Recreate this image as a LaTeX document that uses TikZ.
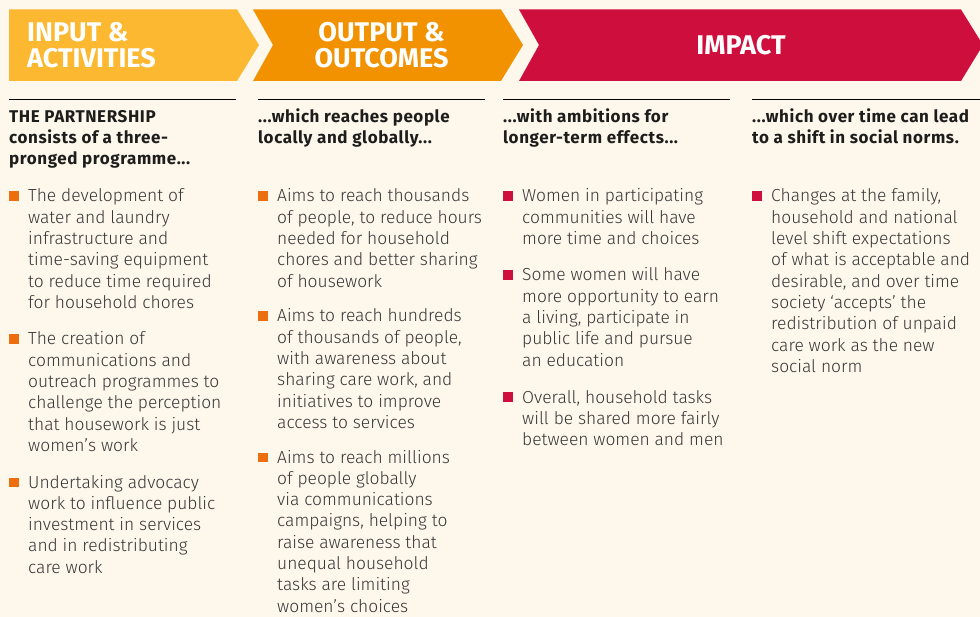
\documentclass[tikz,border=0pt]{standalone}
\usepackage{fontspec}
\setmainfont{Fira Sans}
\newfontfamily\bodyfont{Fira Sans Light}
\newfontfamily\headfont[LetterSpace=3.5]{Fira Sans}
\definecolor{bgcream}{HTML}{FDF7EC}
\definecolor{banyellow}{HTML}{FBB830}
\definecolor{banorange}{HTML}{F39200}
\definecolor{bancrimson}{HTML}{CE0F3E}
\definecolor{bulorange}{HTML}{EC6E0F}
\definecolor{headtext}{HTML}{1D1D1B}
\definecolor{bodytext}{HTML}{363636}
\tikzset{
  x=1pt, y=-1pt,
  bantext/.style={text=white, font=\fontsize{27}{26}\selectfont\bfseries, inner sep=0pt, align=left},
  headtxt/.style={anchor=base west, inner sep=0pt, text=headtext, font=\fontsize{17}{21}\selectfont\headfont\bfseries},
  bodytxt/.style={anchor=base west, inner sep=0pt, text=bodytext, font=\fontsize{17.4}{21.3}\selectfont\bodyfont},
  rule/.style={line width=1pt, draw=black},
  sqbullet/.style={anchor=south west, inner sep=0pt, minimum size=9.5pt, fill=#1}
}
\newcommand\bitem[6]{%
  \node[sqbullet=#4] (#1sq) at (#2,#3-0.8) {};
  \node[bodytxt] (#1) at (#2+19,#3) {\parbox[t]{#5pt}{\raggedright #6}};
}
\begin{document}
\begin{tikzpicture}
\useasboundingbox (0,0) rectangle (980,617);
\clip (0,0) rectangle (980,617);
\fill[bgcream] (0,0) rectangle (980,617);
% banners
\fill[banyellow] (9,9.5) -- (237,9.5) -- (259,45) -- (237,81) -- (9,81) -- cycle;
\fill[banorange] (253,9.5) -- (501,9.5) -- (523,45) -- (501,81) -- (253,81) -- (273,45) -- cycle;
\fill[bancrimson] (519,9.5) -- (961,9.5) -- (983,45) -- (961,81) -- (519,81) -- (539,45) -- cycle;
\node[bantext, anchor=base west] (b1a) at (27,42) {INPUT \&};
\node[bantext, anchor=base west] (b1b) at (27,68) {ACTIVITIES};
\node[bantext, anchor=base] (b2a) at (381.5,42) {OUTPUT \&};
\node[bantext, anchor=base] (b2b) at (381.5,68) {OUTCOMES};
\node[bantext, anchor=base] (b3) at (741,55) {IMPACT};
% rules
\draw[rule] (9,99.5) -- (236,99.5);
\draw[rule] (258,99.5) -- (485,99.5);
\draw[rule] (503,99.5) -- (730,99.5);
\draw[rule] (752,99.5) -- (980,99.5);
% headings
\node[headtxt] (h1) at (9,123) {\parbox[t]{230pt}{\raggedright THE PARTNERSHIP\\consists of a three-\\pronged programme...}};
\node[headtxt] (h2) at (258,123) {\parbox[t]{230pt}{\raggedright ...which reaches people\\locally and globally...}};
\node[headtxt] (h3) at (503,123) {\parbox[t]{230pt}{\raggedright ...with ambitions for\\longer-term effects...}};
\node[headtxt] (h4) at (752,123) {\parbox[t]{230pt}{\raggedright ...which over time can lead\\to a shift in social norms.}};
% column 1
\bitem{c1a}{9}{202}{bulorange}{215}{The development of\\water and laundry\\infrastructure and\\time-saving equipment\\to reduce time required\\for household chores}
\bitem{c1b}{9}{345}{bulorange}{215}{The creation of\\communications and\\outreach programmes to\\challenge the perception\\that housework is just\\women’s work}
\bitem{c1c}{9}{488}{bulorange}{215}{Undertaking advocacy\\work to influence public\\investment in services\\and in redistributing\\care work}
% column 2
\bitem{c2a}{258}{202}{bulorange}{215}{Aims to reach thousands\\of people, to reduce hours\\needed for household\\chores and better sharing\\of housework}
\bitem{c2b}{258}{322}{bulorange}{215}{Aims to reach hundreds\\of thousands of people,\\with awareness about\\sharing care work, and\\initiatives to improve\\access to services}
\bitem{c2c}{258}{463}{bulorange}{215}{Aims to reach millions\\of people globally\\via communications\\campaigns, helping to\\raise awareness that\\unequal household\\tasks are limiting\\women’s choices}
% column 3
\bitem{c3a}{503}{202}{bancrimson}{215}{Women in participating\\communities will have\\more time and choices}
\bitem{c3b}{503}{281}{bancrimson}{215}{Some women will have\\more opportunity to earn\\a living, participate in\\public life and pursue\\an education}
\bitem{c3c}{503}{403}{bancrimson}{215}{Overall, household tasks\\will be shared more fairly\\between women and men}
% column 4
\bitem{c4a}{752}{202}{bancrimson}{215}{Changes at the family,\\household and national\\level shift expectations\\of what is acceptable and\\desirable, and over time\\society ‘accepts’ the\\redistribution of unpaid\\care work as the new\\social norm}
\end{tikzpicture}
\end{document}
